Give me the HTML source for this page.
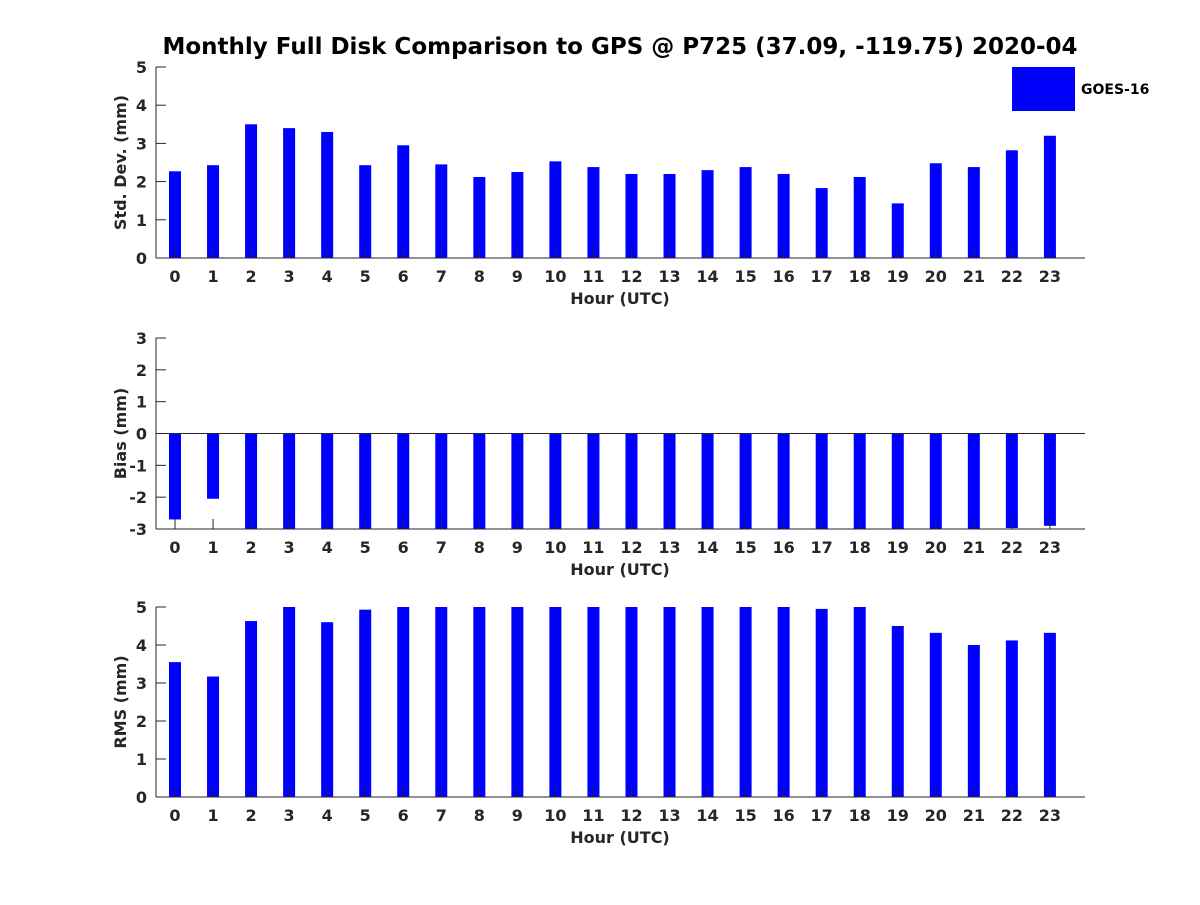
<!DOCTYPE html>
<html><head><meta charset="utf-8"><style>
body{margin:0;background:#fff;}
svg text{font-family:"DejaVu Sans","Liberation Sans",sans-serif;font-weight:bold;fill:#262626;}
</style></head><body>
<svg id="chart" width="1200" height="900" xmlns="http://www.w3.org/2000/svg">
<rect width="1200" height="900" fill="#fff"/>
<text x="620" y="54" font-size="23" text-anchor="middle" style="fill:#000">Monthly Full Disk Comparison to GPS @ P725 (37.09, -119.75) 2020-04</text>
<g>
<rect x="1012" y="67" width="63" height="44" fill="#0000ff"/>
<text x="1081" y="94" font-size="14" style="fill:#000">GOES-16</text>
</g>
</svg>
<script>
const hours=[0,1,2,3,4,5,6,7,8,9,10,11,12,13,14,15,16,17,18,19,20,21,22,23];
const stdValues=[2.27,2.43,3.5,3.4,3.3,2.43,2.95,2.45,2.12,2.25,2.53,2.38,2.2,2.2,2.3,2.38,2.2,1.83,2.12,1.43,2.48,2.38,2.82,3.2];
const biasValues=[-2.7,-2.05,-4,-4,-4,-4,-4,-4,-4,-4,-4,-4,-4,-4,-4,-4,-4,-4,-4,-4,-4,-4,-2.97,-2.9];
const rmsValues=[3.55,3.17,4.63,5.2,4.6,4.93,5.2,5.2,5.2,5.2,5.2,5.2,5.2,5.2,5.2,5.2,5.2,4.95,5.2,4.5,4.32,4.0,4.12,4.32];
const stdTicks=[0,1,2,3,4,5];
const biasTicks=[-3,-2,-1,0,1,2,3];
const rmsTicks=[0,1,2,3,4,5];
const NS="http://www.w3.org/2000/svg";
const svg=document.getElementById('chart');
const X0=156,X1=1085;
function xs(h){return 175+h*38.04;}
function mk(tag,attrs,parent){const e=document.createElementNS(NS,tag);for(const k in attrs)e.setAttribute(k,attrs[k]);(parent||svg).appendChild(e);return e;}
function panel(id,top,bot,ymin,ymax,ticks,vals,ylabel,base){
  const g=mk('g',{});
  
  
  const ys=v=>bot-(v-ymin)/(ymax-ymin)*(bot-top);
  const cp=mk('clipPath',{id:'cp-'+id},g);
  mk('rect',{x:X0,y:top,width:X1-X0,height:bot-top},cp);
  const bars=mk('g',{'clip-path':'url(#cp-'+id+')'},g);
  vals.forEach((v,i)=>{
    const y0=ys(base),y1=ys(v);
    const r=mk('rect',{x:xs(hours[i])-6,y:Math.min(y0,y1),width:12,height:Math.abs(y1-y0),fill:'#0000ff'},bars);
    
    
  });
  hours.forEach(h=>{
    mk('line',{x1:xs(h),x2:xs(h),y1:bot,y2:bot-10,stroke:'#262626','stroke-width':1},g);
    const t=mk('text',{x:xs(h),y:bot+24,'font-size':16,'text-anchor':'middle'},g);
    t.textContent=h;
    
    
  });
  ticks.forEach(v=>{
    mk('line',{x1:X0,x2:X0+10,y1:ys(v),y2:ys(v),stroke:'#262626','stroke-width':1},g);
    const t=mk('text',{x:X0-9,y:ys(v)+6,'font-size':16,'text-anchor':'end'},g);
    t.textContent=v;
    
    
  });
  if(base===0&&ymin<0) mk('line',{x1:X0,x2:X1,y1:ys(0),y2:ys(0),stroke:'#262626','stroke-width':1},g);
  mk('line',{x1:X0,x2:X1,y1:bot,y2:bot,stroke:'#262626','stroke-width':1},g);
  mk('line',{x1:X0,x2:X0,y1:top,y2:bot,stroke:'#262626','stroke-width':1},g);
  const xl=mk('text',{x:620,y:bot+46,'font-size':16,'text-anchor':'middle'},g);
  xl.textContent='Hour (UTC)';
  
  
  const cy=(top+bot)/2;
  const yl=mk('text',{x:126,y:cy,'font-size':16,'text-anchor':'middle',transform:'rotate(-90 126 '+cy+')'},g);
  yl.textContent=ylabel;
  
  
}
panel('std',67,258,0,5,stdTicks,stdValues,'Std. Dev. (mm)',0);
panel('bias',338,529,-3,3,biasTicks,biasValues,'Bias (mm)',0);
panel('rms',607,797,0,5,rmsTicks,rmsValues,'RMS (mm)',0);
</script>
</body></html>
